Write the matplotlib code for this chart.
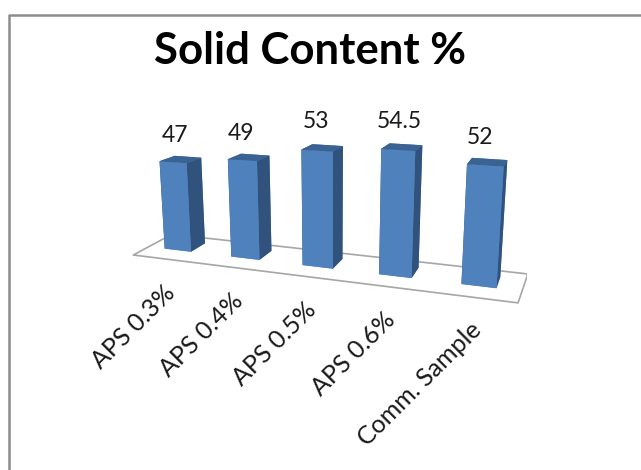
import numpy as np
import matplotlib
matplotlib.use('Agg')
import matplotlib.pyplot as plt
from mpl_toolkits.mplot3d.art3d import Poly3DCollection

categories = ['APS 0.3%', 'APS 0.4%', 'APS 0.5%', 'APS 0.6%', 'Comm. Sample']
values = [47, 49, 53, 54.5, 52]
value_labels = ['47', '49', '53', '54.5', '52']

W, H = 641, 470
plt.rcParams['font.family'] = ['Lato', 'DejaVu Sans']
fig = plt.figure(figsize=(W / 100, H / 100), dpi=100)
ax = fig.add_axes([0, 0, 1, 1], projection='3d')

# camera found by fitting to the reference
base = 20.85  # value axis does not start at zero
bar_w, bar_d = 0.404, 0.453
S = 418.5
cx, cy = 316.9, 199.2

ax.set_xlim(0, 5)
ax.set_ylim(0, 1)
ax.set_zlim(base, 60)
ax.view_init(elev=14.16, azim=-70.35, roll=0.17)
ax.set_proj_type('persp', focal_length=0.3231)
ax.set_box_aspect((1, 0.1704, 0.3612))
ax.set_position([(cx - S / 2) / W, (H - cy - S / 2) / H, S / W, S / H])
ax.set_axis_off()
ax.computed_zorder = False

front, top, side = '#4F81BD', '#3A6292', '#30527C'
floor = [(0.03, -0.14, base), (4.97, -0.14, base), (5, 1, base), (0.03, 1, base)]
ax.add_collection3d(Poly3DCollection([floor], facecolors='white', edgecolors='#a6a6a6', linewidths=1.2, zorder=1))
for i, v in enumerate(values):
    ax.bar3d(i + 0.5 - bar_w / 2, 0.5 - bar_d / 2, base, bar_w, bar_d, v - base, shade=False,
             color=[front, top, front, front, side, side], zorder=2 + i)
ax.set_xlim(0, 5)
ax.set_ylim(0, 1)
ax.set_zlim(base, 60)

label_xy = [(175, 135), (241, 133), (316, 122), (399, 122), (480, 138)]
end_xy = [(171, 289), (239, 297), (312, 306), (391, 316), (478, 326)]
for i in range(5):
    fig.text(label_xy[i][0] / W, 1 - label_xy[i][1] / H, value_labels[i], ha='center', va='center',
             fontsize=16.5, color='#1a1a1a')
    fig.text(end_xy[i][0] / W, 1 - end_xy[i][1] / H, categories[i], ha='right', va='center',
             rotation=45, rotation_mode='anchor', fontsize=18, color='#1a1a1a')

fig.text(310 / W, 1 - 51 / H, 'Solid Content %', ha='center', va='center', fontsize=31.5, fontweight='bold')
fig.add_artist(plt.Line2D([8.5 / W, 8.5 / W, 1], [0, 1 - 14.5 / H, 1 - 14.5 / H], color='#8c8c8c', lw=1.8))
fig.savefig('out.png', dpi=100)
